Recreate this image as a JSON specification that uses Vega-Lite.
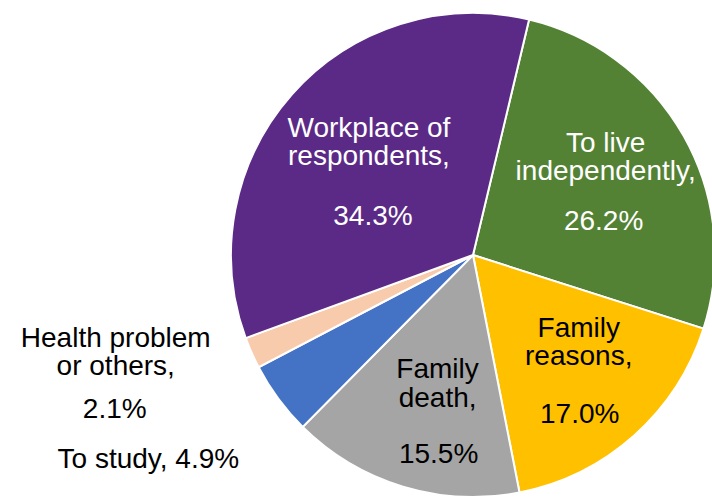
{
  "$schema": "https://vega.github.io/schema/vega-lite/v6.json",
  "width": 478,
  "height": 490,
  "autosize": {"type": "none"},
  "padding": {"left": 234, "top": 10, "right": 0, "bottom": 0},
  "background": "white",
  "config": {"view": {"stroke": null}},
  "data": {
    "values": [
      {"category": "To live independently", "value": 26.2, "order": 1, "name": ["To live", "independently,"], "pct": "26.2%"},
      {"category": "Family reasons", "value": 17.0, "order": 2, "name": ["Family", "reasons,"], "pct": "17.0%"},
      {"category": "Family death", "value": 15.5, "order": 3, "name": ["Family", "death,"], "pct": "15.5%"},
      {"category": "To study", "value": 4.9, "order": 4, "name": "To study, 4.9%", "pct": ""},
      {"category": "Health problem or others", "value": 2.1, "order": 5, "name": ["Health problem", "or others,"], "pct": "2.1%"},
      {"category": "Workplace of respondents", "value": 34.3, "order": 6, "name": ["Workplace of", "respondents,"], "pct": "34.3%"}
    ]
  },
  "encoding": {
    "theta": {"field": "value", "type": "quantitative", "stack": true, "scale": {"domain": [0, 100], "range": [0.2339, 6.5171]}},
    "order": {"field": "order", "type": "quantitative", "sort": "ascending"},
    "detail": {"field": "category", "type": "nominal"}
  },
  "layer": [
    {
      "mark": {"type": "arc", "outerRadius": 242, "stroke": "white", "strokeWidth": 2},
      "encoding": {
        "color": {
          "field": "category",
          "type": "nominal",
          "scale": {
            "domain": ["To live independently", "Family reasons", "Family death", "To study", "Health problem or others", "Workplace of respondents"],
            "range": ["#548235", "#FFC000", "#A5A5A5", "#4472C4", "#F8CBAD", "#5B2A86"]
          },
          "legend": null
        }
      }
    },
    {
      "mark": {"type": "text", "radius": 150, "dx": 2, "dy": -29, "font": "Liberation Sans", "fontSize": 28, "lineHeight": 28, "color": "white", "align": "center", "baseline": "alphabetic"},
      "encoding": {"text": {"condition": {"test": "datum.category === 'To live independently'", "field": "name", "type": "nominal"}, "value": ""}}
    },
    {
      "mark": {"type": "text", "radius": 150, "dx": 0, "dy": 49, "font": "Liberation Sans", "fontSize": 28, "color": "white", "align": "center", "baseline": "alphabetic"},
      "encoding": {"text": {"condition": {"test": "datum.category === 'To live independently'", "field": "pct", "type": "nominal"}, "value": ""}}
    },
    {
      "mark": {"type": "text", "radius": 150, "dx": 6, "dy": -30, "font": "Liberation Sans", "fontSize": 28, "lineHeight": 28, "color": "black", "align": "center", "baseline": "alphabetic"},
      "encoding": {"text": {"condition": {"test": "datum.category === 'Family reasons'", "field": "name", "type": "nominal"}, "value": ""}}
    },
    {
      "mark": {"type": "text", "radius": 150, "dx": 7, "dy": 56, "font": "Liberation Sans", "fontSize": 28, "color": "black", "align": "center", "baseline": "alphabetic"},
      "encoding": {"text": {"condition": {"test": "datum.category === 'Family reasons'", "field": "pct", "type": "nominal"}, "value": ""}}
    },
    {
      "mark": {"type": "text", "radius": 150, "dx": 8, "dy": -21, "font": "Liberation Sans", "fontSize": 28, "lineHeight": 29, "color": "black", "align": "center", "baseline": "alphabetic"},
      "encoding": {"text": {"condition": {"test": "datum.category === 'Family death'", "field": "name", "type": "nominal"}, "value": ""}}
    },
    {
      "mark": {"type": "text", "radius": 150, "dx": 9, "dy": 64, "font": "Liberation Sans", "fontSize": 28, "color": "black", "align": "center", "baseline": "alphabetic"},
      "encoding": {"text": {"condition": {"test": "datum.category === 'Family death'", "field": "pct", "type": "nominal"}, "value": ""}}
    },
    {
      "mark": {"type": "text", "radius": 380, "dx": -19, "dy": -13, "font": "Liberation Sans", "fontSize": 28, "color": "black", "align": "center", "baseline": "alphabetic"},
      "encoding": {"text": {"condition": {"test": "datum.category === 'To study'", "field": "name", "type": "nominal"}, "value": ""}}
    },
    {
      "mark": {"type": "text", "radius": 360, "dx": -28, "dy": -54, "font": "Liberation Sans", "fontSize": 28, "lineHeight": 28, "color": "black", "align": "center", "baseline": "alphabetic"},
      "encoding": {"text": {"condition": {"test": "datum.category === 'Health problem or others'", "field": "name", "type": "nominal"}, "value": ""}}
    },
    {
      "mark": {"type": "text", "radius": 360, "dx": -29, "dy": 17, "font": "Liberation Sans", "fontSize": 28, "color": "black", "align": "center", "baseline": "alphabetic"},
      "encoding": {"text": {"condition": {"test": "datum.category === 'Health problem or others'", "field": "pct", "type": "nominal"}, "value": ""}}
    },
    {
      "mark": {"type": "text", "radius": 150, "dx": 8, "dy": -18, "font": "Liberation Sans", "fontSize": 28, "lineHeight": 28, "color": "white", "align": "center", "baseline": "alphabetic"},
      "encoding": {"text": {"condition": {"test": "datum.category === 'Workplace of respondents'", "field": "name", "type": "nominal"}, "value": ""}}
    },
    {
      "mark": {"type": "text", "radius": 150, "dx": 12, "dy": 70, "font": "Liberation Sans", "fontSize": 28, "color": "white", "align": "center", "baseline": "alphabetic"},
      "encoding": {"text": {"condition": {"test": "datum.category === 'Workplace of respondents'", "field": "pct", "type": "nominal"}, "value": ""}}
    }
  ]
}
